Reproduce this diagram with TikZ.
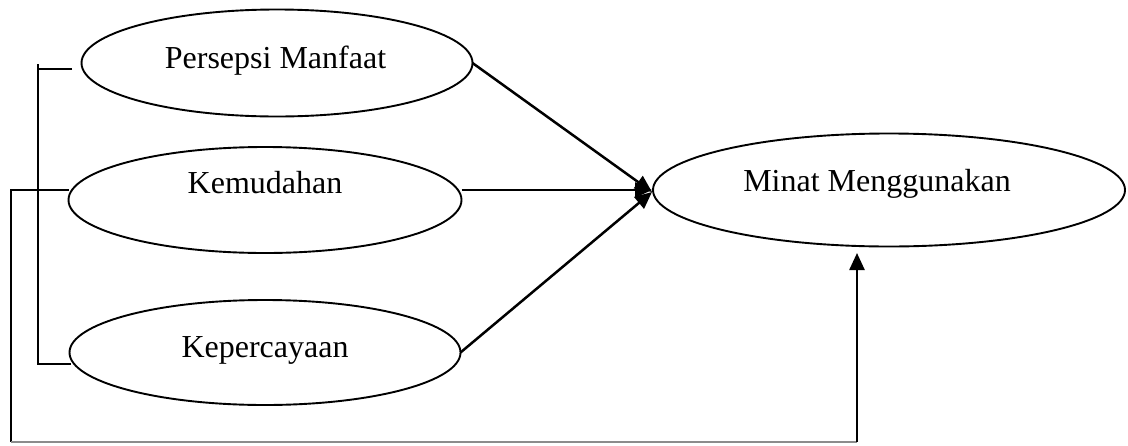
\documentclass[tikz,border=0pt]{standalone}
\usepackage{fontspec}
\setmainfont{Liberation Serif}
\usetikzlibrary{shapes.geometric,arrows.meta}
\tikzset{
  ell/.style={ellipse,draw,line width=1.9pt,inner sep=0pt,outer sep=0pt},
  lbl/.style={anchor=base,inner sep=0pt,font=\fontsize{32}{38}\selectfont},
  conn/.style={line width=2.5pt},
  arr/.style={line width=2.5pt,-{Triangle[length=17pt,width=15pt]}},
  base/.style={line width=2pt,draw=black!45}
}
\begin{document}
\begin{tikzpicture}[x=1pt,y=-1pt]
\useasboundingbox (0,0) rectangle (1128,445);
% ellipses
\node[ell,minimum width=391pt,minimum height=107pt] (p) at (277,63) {};
\node[ell,minimum width=393pt,minimum height=106pt] (k) at (265,200) {};
\node[ell,minimum width=391pt,minimum height=105pt] (c) at (265,352.5) {};
\node[ell,minimum width=472pt,minimum height=113pt] (m) at (889,190) {};
% labels
\node[lbl] (tp) at (275.5,68) {Persepsi Manfaat};
\node[lbl] (tk) at (265,193) {Kemudahan};
\node[lbl] (tc) at (265,357) {Kepercayaan};
\node[lbl] (tm) at (877,191) {Minat Menggunakan};
% helper coordinates
\coordinate (tip) at (652,192);
\coordinate (b1) at (72,69);
\coordinate (b1t) at (38,64);
\coordinate (b1c) at (38,69);
\coordinate (b1b) at (38,364);
\coordinate (b1e) at (71,364);
\coordinate (o1) at (69,190);
\coordinate (o2) at (11,190);
\coordinate (o3) at (11,442);
\coordinate (o4) at (857,442);
\coordinate (o5) at (857,246);
% arrows into Minat Menggunakan
\draw[arr] (p.east) -- (tip);
\draw[arr] (k.east |- 0,190) -- (tip |- 0,190);
\draw[arr] (c.east) -- (tip);
% left bracket
\draw[conn] (b1) -- (b1c);
\draw[conn] (b1t) -- (b1b) -- (b1e);
% outer bracket and bottom arrow
\draw[conn] (o1) -- (o2) -- (o3);
\draw[base] (o3) -- (o4);
\draw[arr,shorten >=7pt] (o4) -- (o5);
\end{tikzpicture}
\end{document}
